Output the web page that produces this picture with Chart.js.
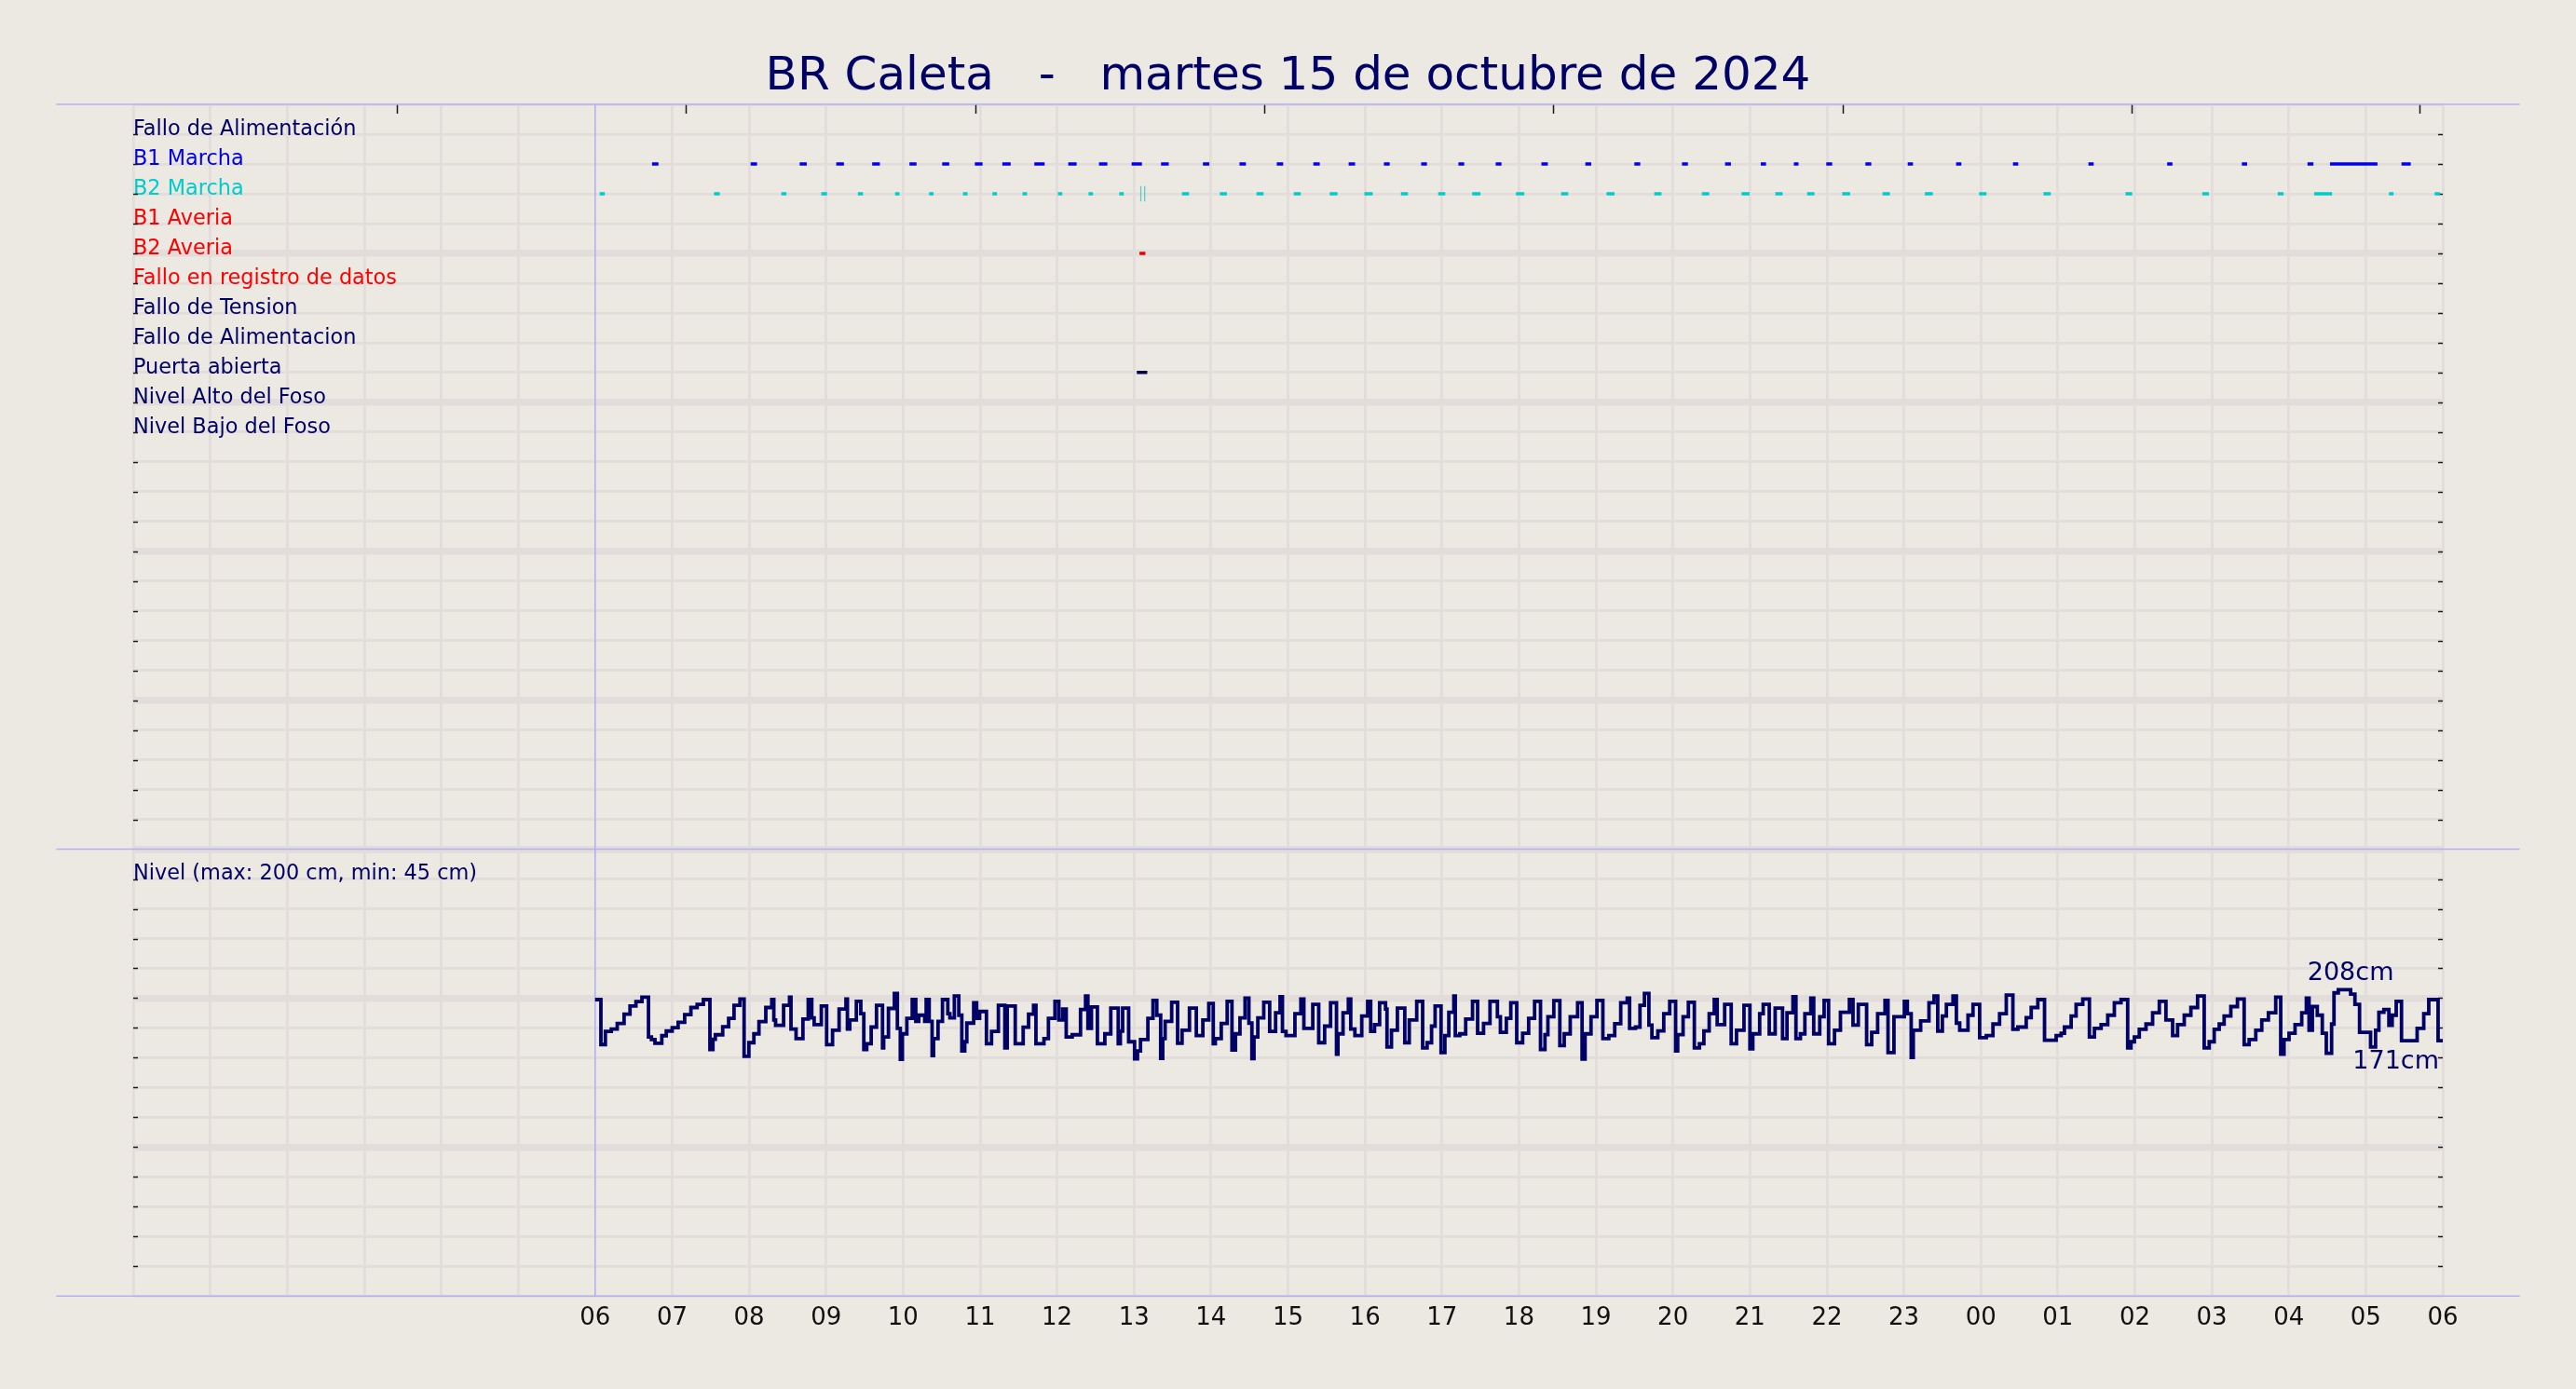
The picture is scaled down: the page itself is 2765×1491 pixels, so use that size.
<!DOCTYPE html>
<html><head><meta charset="utf-8">
<script src="https://cdn.jsdelivr.net/npm/chart.js@4.4.1/dist/chart.umd.min.js"></script>
<style>html,body{margin:0;padding:0;background:#ece8e2;overflow:hidden}canvas{display:block;background:#ece8e2}</style>
</head><body>
<canvas id="c" width="2765" height="1491" style="width:2765px;height:1491px"></canvas>
<script>
// ---------- texts / categories ----------
const chartTitle = 'BR Caleta   -   martes 15 de octubre de 2024';
const rowLabels = ['Fallo de Alimentación','B1 Marcha','B2 Marcha','B1 Averia','B2 Averia',
  'Fallo en registro de datos','Fallo de Tension','Fallo de Alimentacion','Puerta abierta',
  'Nivel Alto del Foso','Nivel Bajo del Foso'];
const rowColors = ['#000066','#0000ee','#00cccc','#ff0000','#ff0000','#ff0000',
  '#000066','#000066','#000066','#000066','#000066'];
const levelLabel = 'Nivel (max: 200 cm, min: 45 cm)';
const hourLabels = ['06','07','08','09','10','11','12','13','14','15','16','17','18',
  '19','20','21','22','23','00','01','02','03','04','05','06'];
// hours since 06:00 of the small marks along the top edge
const topTickHours = [-2.572, 1.182, 4.939, 8.693, 12.446, 16.203, 19.960, 23.693];

// ---------- events (start in hours since 06:00, duration in minutes) ----------
const b1Start = [0.739,2.020,2.657,3.132,3.599,4.083,4.508,4.932,5.289,5.705,6.146,6.545,6.969,7.351,
  7.895,8.370,8.854,9.329,9.788,10.246,10.730,11.214,11.698,12.292,12.862,13.499,14.118,14.677,
  15.141,15.571,15.992,16.500,17.050,17.678,18.417,19.397,20.420,21.390,22.243,22.535,23.464];
const b1Minutes = [5,5,5.5,6,6,5.5,5.5,6,6.5,8,6.5,6.5,8,6,5,5,5,5,5,4.5,4.5,4.5,4.5,5,4.6,4.6,4.6,4.6,
  4.1,3.6,4.6,4.6,4.1,4.1,4.1,4.1,4.1,4.1,4.6,37,7.2];
const b2Start = [0.059,1.545,2.419,2.937,3.413,3.896,4.338,4.779,5.161,5.552,6.010,6.409,6.808,7.623,
  8.115,8.591,9.075,9.542,9.992,10.467,10.951,11.392,11.961,12.547,13.138,13.757,14.376,14.892,
  15.330,15.743,16.199,16.723,17.273,17.978,18.813,19.879,20.876,21.856,22.329,23.301,23.894];
const b2Minutes = [4,4.5,4,4.5,4,3.5,3.5,3.5,3.5,3.5,3.5,3.5,3.5,5.5,5.5,5.5,5.5,6,6.5,5.5,5.5,6.5,6.5,
  5.6,6.2,5.7,5.7,6.2,5.7,5.7,6.2,5.7,6.2,5.7,5.7,5.2,5.2,4.6,14,3.6,4.1];
const b2Pulses = [7.088, 7.139];
const b2AveriaStart = [7.071];  const b2AveriaMinutes = [4.6];
const puertaStart = [7.037];    const puertaMinutes = [8.1];

// ---------- level (cm), [hours since 06:00, value] steps ----------
const levelMorning = [[0,202.7],[0.075,178.8],[0.133,185.8],[0.210,187],[0.287,190],[0.376,195],[0.453,199.3],
 [0.530,201.7],[0.608,204],[0.693,182.8],[0.731,181.5],[0.777,179.5],[0.866,183.5],[0.924,186],[1.001,187.8],
 [1.078,190.6],[1.163,194.7],[1.244,198.5],[1.325,200.2],[1.406,202.7],[1.491,176.2],[1.530,181.6],[1.561,184],
 [1.657,188.3],[1.734,192.7],[1.804,199.7],[1.881,203],[1.935,172.5],[1.997,179.8],[2.062,184.5],[2.128,191],
 [2.217,198.5],[2.294,202.7],[2.321,191.9],[2.344,189],[2.448,199.7],[2.525,204],[2.544,187],[2.610,182],
 [2.699,192.4],[2.768,202.7],[2.814,193],[2.845,189.4],[2.938,199.3],[3.007,178.7],[3.084,186.4],[3.169,197.7],
 [3.258,203],[3.277,187],[3.308,191.9],[3.393,201.8],[3.451,195.2],[3.490,176.2],[3.528,179.2],[3.586,188.1],
 [3.655,199.7],[3.733,177],[3.748,182.8],[3.810,198],[3.887,206],[3.926,187.4],[3.964,171],[3.991,184.5],
 [4.049,192.7],[4.119,202.7],[4.165,191.1],[4.204,194.4],[4.281,191.1],[4.300,202.7],[4.339,191.1],[4.377,172.9],
 [4.396,182],[4.454,191.1],[4.512,202.7],[4.581,195.2],[4.608,193],[4.666,204.6],[4.724,194.4],[4.763,175.4],
 [4.801,180.3],[4.828,190.2],[4.917,201],[4.956,192.7],[4.994,196.4],[5.083,179.2],[5.149,185.8],[5.238,199.7],
 [5.322,177],[5.353,199.3],[5.457,179.2],[5.560,188],[5.630,195]];
const levelMidday = [[5.695,199.7],[5.726,179.2],[5.830,182],[5.888,192.7],[5.973,201.8],[6.023,191.9],[6.073,197.7],
 [6.119,182.8],[6.197,184],[6.305,197.4],[6.370,204.6],[6.401,187.4],[6.447,198.8],[6.524,179.2],[6.621,184.5],
 [6.698,198.2],[6.795,179.2],[6.822,186],[6.852,198.2],[6.930,180.3],[7.007,171.2],[7.045,175.4],[7.084,181.5],
 [7.180,192.7],[7.246,202.3],[7.296,194.4],[7.346,171.4],[7.373,182],[7.404,191.1],[7.489,201.3],[7.566,179.5],
 [7.624,186.4],[7.720,198.2],[7.809,183.6],[7.894,191.9],[7.971,200.7],[8.029,179.2],[8.056,182],[8.133,190],
 [8.210,201.8],[8.272,175.9],[8.318,184.5],[8.376,193],[8.442,203.5],[8.492,190.2],[8.531,171.3],[8.558,182.8],
 [8.608,193],[8.685,201.3],[8.762,185.8],[8.839,195.7],[8.897,204.3],[8.928,185.8],[8.974,183.6],[9.090,195.2],
 [9.167,203],[9.206,187.4],[9.322,200.2],[9.399,179.8],[9.476,188.6],[9.553,201],[9.630,173.7],[9.649,184.5],
 [9.715,195.7],[9.784,203],[9.815,187],[9.869,183.6],[9.958,194],[10.035,201.8],[10.074,185.8],[10.124,189.4],
 [10.190,201],[10.267,197.7],[10.286,177.5],[10.344,186.4],[10.421,198.2],[10.517,179.8],[10.575,191.9],
 [10.672,201.8],[10.749,177],[10.807,179.8],[10.865,188.6],[10.911,199.3],[10.988,174.5],[11.038,183.6],
 [11.089,196],[11.154,204.6],[11.173,183.6],[11.231,184.5],[11.308,192.4],[11.397,201.8],[11.463,184.8],[11.540,190]];
const levelEvening = [[11.624,201.8],[11.720,193.6],[11.759,185.3],[11.836,192.7],[11.894,201],[11.971,179.8],
 [12.048,184.8],[12.126,192.7],[12.203,201.8],[12.280,176.2],[12.338,184.1],[12.376,193.6],[12.453,202.2],
 [12.531,178.2],[12.588,184.5],[12.666,193.6],[12.762,201],[12.820,171.1],[12.859,184.5],[12.936,193.6],
 [13.013,202.3],[13.090,182],[13.167,183.6],[13.244,189.9],[13.322,201],[13.406,203.5],[13.437,187.4],
 [13.514,188.1],[13.572,199.7],[13.630,206],[13.688,189.1],[13.727,182.5],[13.804,186.1],[13.881,195.2],
 [13.958,201.8],[14.035,175.4],[14.062,184.1],[14.132,193.6],[14.201,201.3],[14.278,177],[14.344,179.2],
 [14.402,186.1],[14.471,195.2],[14.537,202.7],[14.575,189.4],[14.672,200.2],[14.757,179.2],[14.826,186.4],
 [14.923,199.7],[15.000,176.5],[15.038,184.5],[15.127,195.2],[15.173,200.2],[15.251,184.5],[15.328,198.2],
 [15.424,182],[15.482,195.7],[15.559,204.3],[15.598,182],[15.656,184.5],[15.714,195.2],[15.791,203.5],
 [15.829,184.5],[15.907,193.6],[15.964,202.3],[16.022,179.2],[16.099,186.4],[16.176,196],[16.292,202.7],
 [16.339,189.1],[16.408,200.2],[16.516,178.7],[16.582,185.3],[16.659,195.2],[16.755,202.3],[16.794,174.5],
 [16.871,193.6],[17.006,201.8],[17.045,195.2],[17.095,172],[17.122,186.4],[17.218,191.4],[17.326,201],
 [17.392,204.6],[17.440,186],[17.500,194]];
const levelNight = [[17.552,200.2],[17.638,204.6],[17.682,190.2],[17.725,186.4],[17.833,194.4],[17.898,200.2],
 [17.984,182.5],[18.071,183.6],[18.157,189.7],[18.243,195.2],[18.330,205.1],[18.416,186.9],[18.481,188.1],
 [18.589,193.1],[18.654,198.5],[18.740,202.7],[18.827,181.1],[18.978,183.6],[19.043,184.8],[19.086,188.1],
 [19.173,194],[19.237,200.2],[19.324,203],[19.410,182.8],[19.475,187.4],[19.562,189.4],[19.648,194.4],
 [19.734,201],[19.821,202.7],[19.907,177],[19.950,180.3],[19.994,182.8],[20.058,186.9],[20.145,189.7],
 [20.231,195.7],[20.318,201.8],[20.404,191.9],[20.491,183.6],[20.555,189.4],[20.642,194.4],[20.728,198.5],
 [20.815,204.6],[20.901,177],[20.966,180.3],[21.031,186.9],[21.096,189.7],[21.160,194],[21.247,199],
 [21.333,203],[21.420,178.7],[21.485,181.5],[21.571,186.4],[21.649,191.9],[21.735,195.7],[21.830,204],
 [21.895,173.7],[21.938,181.5],[22.003,184.8],[22.081,189.4],[22.168,195.7],[22.228,203.5],[22.263,186.4],
 [22.306,199],[22.370,194.4],[22.435,184.8],[22.487,174.2],[22.556,189.7],[22.587,206.3],[22.643,208],
 [22.803,205.6],[22.859,200.2],[22.919,185.3],[23.062,177.5],[23.127,186.4],[23.170,196],[23.235,197.4],
 [23.300,189],[23.343,194.4],[23.395,201.8],[23.464,180.8],[23.667,187.4],[23.753,195.2],[23.818,202.7],
 [23.939,180.8],[24,180.8]];

// ---------- axis ranges ----------
const hourMin = -6, hourMax = 24;
const topRows = 25, levelRows = 15;
const levelAxisMin = 45, levelAxisMax = 282.7;

// ---------- styles ----------
const BG = '#ece8e2', GRID = '#e2dddb', LAV = '#b2b2f2', NAVY = '#000066', TICK = '#1a1a1a';
const FONT = 'DejaVu Sans';
Chart.defaults.font.family = FONT;
Chart.defaults.color = NAVY;

const levelSteps = [...levelMorning, ...levelMidday, ...levelEvening, ...levelNight];

function eventSegments(starts, minutes, row) {
  const pts = [];
  starts.forEach((s, i) => {
    const e = s + minutes[i] / 60;
    pts.push({x: s, y: row}, {x: e, y: row}, {x: e, y: null});
  });
  return pts;
}
function pulseSegments(times, row) {
  const pts = [];
  times.forEach(t => pts.push({x: t, y: row - 0.26}, {x: t, y: row + 0.26}, {x: t, y: null}));
  return pts;
}
const rowOf = name => rowLabels.indexOf(name) + 1;
const markDefaults = {yAxisID: 'yTop', pointRadius: 0, borderWidth: 3.5, fill: false, spanGaps: false, borderCapStyle: 'butt'};

const decor = {
  id: 'decor',
  beforeDatasetsDraw(chart) {
    const {ctx, chartArea: a, scales: {x, yTop, yLevel}} = chart;
    ctx.save();
    ctx.strokeStyle = TICK; ctx.lineWidth = 1.5;
    ctx.beginPath();
    [yTop, yLevel].forEach(s => s.ticks.forEach(t => {
      const y = Math.round(s.getPixelForValue(t.value)) + 0.5;
      if (y < a.top + 3 || y > a.bottom - 3 || Math.abs(y - yTop.bottom) < 3) return;
      ctx.moveTo(a.left, y); ctx.lineTo(a.left + 5, y);
      ctx.moveTo(a.right - 5, y); ctx.lineTo(a.right, y);
    }));
    topTickHours.forEach(h => {
      const px = Math.round(x.getPixelForValue(h)) + 0.5;
      ctx.moveTo(px, a.top); ctx.lineTo(px, a.top + 10);
    });
    ctx.stroke();
    ctx.strokeStyle = LAV; ctx.lineWidth = 1.6;
    ctx.beginPath();
    const x0 = x.getPixelForValue(hourMin - 1), x1 = x.getPixelForValue(hourMax + 1);
    [yTop.getPixelForValue(0), yTop.getPixelForValue(topRows), yLevel.getPixelForValue(levelAxisMin)].forEach(y => {
      ctx.moveTo(x0, y); ctx.lineTo(x1, y);
    });
    const xs = x.getPixelForValue(0);
    ctx.moveTo(xs, a.top); ctx.lineTo(xs, a.bottom);
    ctx.stroke();
    ctx.restore();
  },
  afterDatasetsDraw(chart) {
    const {ctx, chartArea: a, scales: {x, yLevel}} = chart;
    const vals = levelSteps.map(p => p[1]);
    const vMax = Math.max(...vals), vMin = Math.min(...vals);
    const iMax = vals.indexOf(vMax);
    const tMax = levelSteps[Math.min(iMax + 1, levelSteps.length - 1)][0];
    ctx.save();
    ctx.fillStyle = NAVY;
    ctx.font = `27px "${FONT}"`;
    ctx.textAlign = 'center'; ctx.textBaseline = 'alphabetic';
    ctx.fillText(Math.round(vMax) + 'cm', x.getPixelForValue(tMax), yLevel.getPixelForValue(vMax) - 10);
    ctx.textAlign = 'right'; ctx.textBaseline = 'alphabetic';
    ctx.fillText(Math.round(vMin) + 'cm', a.right - 4, yLevel.getPixelForValue(vMin) + 10);
    ctx.restore();
  }
};

new Chart(document.getElementById('c'), {
  type: 'line',
  data: {
    datasets: [
      {...markDefaults, label: 'B1 Marcha', data: eventSegments(b1Start, b1Minutes, rowOf('B1 Marcha')), borderColor: '#0000ee'},
      {...markDefaults, label: 'B2 Marcha', data: eventSegments(b2Start, b2Minutes, rowOf('B2 Marcha')), borderColor: '#00cccc'},
      {...markDefaults, label: 'B2 Marcha pulso', data: pulseSegments(b2Pulses, rowOf('B2 Marcha')), borderColor: '#55c8c8', borderWidth: 1.2},
      {...markDefaults, label: 'B2 Averia', data: eventSegments(b2AveriaStart, b2AveriaMinutes, rowOf('B2 Averia')), borderColor: '#ee0000'},
      {...markDefaults, label: 'Puerta abierta', data: eventSegments(puertaStart, puertaMinutes, rowOf('Puerta abierta')), borderColor: '#000044'},
      {label: 'Nivel', yAxisID: 'yLevel', data: levelSteps.map(p => ({x: p[0], y: p[1]})),
        stepped: 'before', borderColor: NAVY, borderWidth: 3.8, pointRadius: 0, fill: false, borderJoinStyle: 'miter'}
    ]
  },
  options: {
    responsive: false, animation: false, devicePixelRatio: 1,
    layout: {padding: {top: 58.4, left: 143, right: 143, bottom: 52.5}},
    plugins: {
      legend: {display: false}, tooltip: {enabled: false},
      title: {display: true, text: chartTitle, color: NAVY, font: {family: FONT, size: 50, weight: 'normal', lineHeight: 1},
        padding: {top: 0, bottom: 3.6}}
    },
    scales: {
      yTop: {
        type: 'linear', position: 'left', stack: 'v', stackWeight: topRows, weight: 1, reverse: true, min: 0, max: topRows,
        afterBuildTicks: s => { s.ticks = Array.from({length: topRows + 1}, (_, i) => ({value: i})); },
        ticks: {mirror: true, padding: 0, labelOffset: -5, autoSkip: false, font: {size: 22.4},
          color: c => rowColors[c.tick.value - 1] || NAVY,
          callback: v => rowLabels[v - 1] || ''},
        grid: {color: GRID, drawTicks: false, lineWidth: c => (c.tick.value % 5 === 0 && c.tick.value > 0) ? 7.5 : 2.7},
        border: {display: false}
      },
      yLevel: {
        type: 'linear', position: 'left', stack: 'v', stackWeight: levelRows, weight: 0, min: levelAxisMin, max: levelAxisMax,
        afterBuildTicks: s => { s.ticks = Array.from({length: levelRows + 1}, (_, i) => ({value: levelAxisMin + i * (levelAxisMax - levelAxisMin) / levelRows})); },
        ticks: {mirror: true, padding: 0, labelOffset: -5, autoSkip: false, font: {size: 22.4}, color: NAVY,
          callback: (v, i) => i === levelRows - 1 ? levelLabel : ''},
        grid: {color: GRID, drawTicks: false, lineWidth: c => (c.index % 5 === 0 && c.index > 0) ? 7.5 : 2.7},
        border: {display: false}
      },
      x: {
        type: 'linear', position: 'bottom', min: hourMin, max: hourMax,
        ticks: {stepSize: 1, autoSkip: false, maxRotation: 0, padding: 8, font: {size: 26}, color: '#111111',
          callback: v => (v >= 0 && Number.isInteger(v)) ? hourLabels[v] : ''},
        grid: {drawTicks: false, lineWidth: 2.8, color: c => c.tick.value === 0 ? 'rgba(0,0,0,0)' : GRID},
        border: {display: false}
      }
    }
  },
  plugins: [decor]
});
</script>
</body></html>
